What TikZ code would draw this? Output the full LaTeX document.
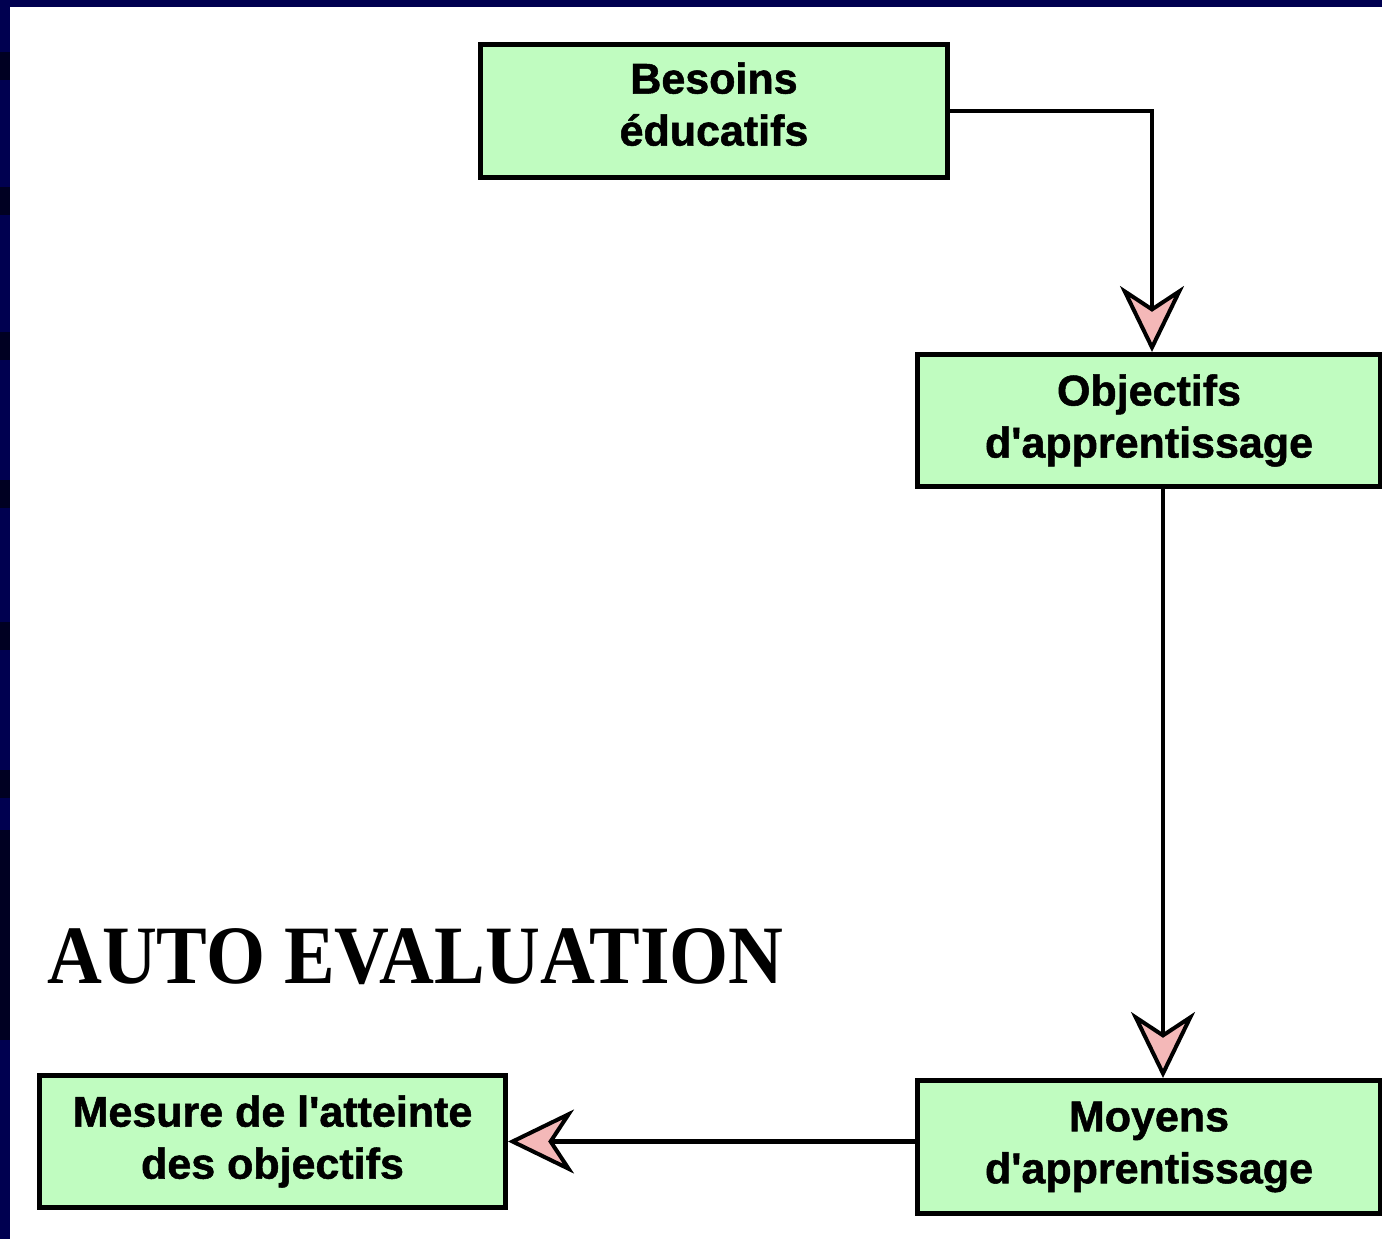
\documentclass[tikz,border=0pt]{standalone}
\usepackage{fontspec}
\usepackage{tikz}
\usepackage{xcolor}
\usetikzlibrary{arrows.meta, positioning, calc}
\newfontfamily\boxfont{Liberation Sans}[BoldFeatures={FakeBold=1.2}]
\newfontfamily\titlefont{Liberation Serif}
\definecolor{boxgreen}{HTML}{C0FCC0}
\definecolor{arrowpink}{HTML}{F4B8B8}
\definecolor{framenavy}{HTML}{000050}
\definecolor{darknavy}{HTML}{000022}

\begin{document}
\begin{tikzpicture}[x=1pt, y=-1pt,
            stepbox/.style={rectangle, draw=black, line width=5pt, fill=boxgreen, align=center,
                minimum height=133pt, inner sep=0pt,
                font=\boxfont\bfseries\fontsize{43}{52}\selectfont},
            flow/.style={line width=4.5pt, -{Stealth[length=66pt, width=64pt, inset=21pt, line width=4pt, fill=arrowpink]}}
        ]
            \useasboundingbox (0,0) rectangle (1382,1239);

% Page frame
            \fill[white] (0,0) rectangle (1382,1239);
            \fill[framenavy] (0,0) rectangle (1382,7);
            \fill[framenavy] (0,0) rectangle (10,1239);
            \foreach \y in {52,187,332,480,622,770} {
                \fill[darknavy] (0,\y) rectangle (10,\y+28);
            }
            \fill[darknavy] (0,830) rectangle (10,1040);

% Steps
            \node[stepbox, minimum width=467pt, text depth=14pt] (besoins) at (714,111) {Besoins\\éducatifs};
            \node[stepbox, minimum width=463pt, minimum height=132pt] (objectifs) at (1149,420.5) {Objectifs\\d'apprentissage};
            \node[stepbox, minimum width=463pt] (moyens) at (1149,1147) {Moyens\\d'apprentissage};
            \node[stepbox, minimum width=466pt, minimum height=132pt] (mesure) at (272.5,1141.5) {Mesure de l'atteinte\\des objectifs};

% Title
            \node[anchor=base west, inner sep=0pt, xscale=0.915, font=\titlefont\bfseries\fontsize{83}{90}\selectfont] (autoeval) at (47,983) {AUTO EVALUATION};

% Arrows
            \draw[flow] (besoins.east) -| ([xshift=3pt]objectifs.north);
            \draw[flow] ([xshift=14pt]objectifs.south) -- ([xshift=14pt]moyens.north);
            \draw[flow] (moyens.west |- mesure.east) -- (mesure.east);

        \end{tikzpicture}
\end{document}
